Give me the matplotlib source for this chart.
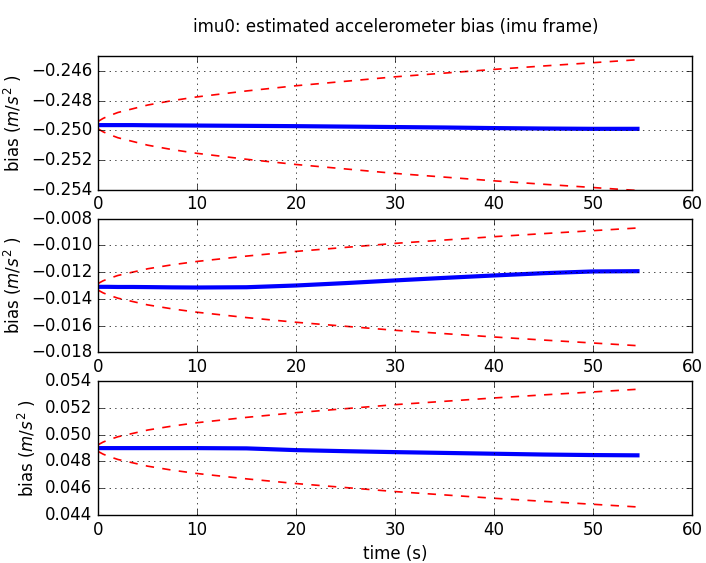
import numpy as np
import matplotlib.pyplot as plt

plt.style.use('classic')
plt.rcParams['mathtext.fontset'] = 'dejavusans'
plt.rcParams['figure.facecolor'] = 'white'
plt.rcParams['axes.unicode_minus'] = True

# time stamps (s)
t = [0, 0.5, 1, 2, 3.5, 5, 7.5, 10, 15, 20, 25, 30, 35, 40, 45, 50, 54.5]

# estimated bias per axis (m/s^2)
bias_x = [-0.24965, -0.24965, -0.24965, -0.24965, -0.24965, -0.24966, -0.24967, -0.24968, -0.24970,
          -0.24972, -0.24975, -0.24978, -0.24981, -0.24985, -0.24988, -0.24990, -0.24990]
bias_y = [-0.01310, -0.01310, -0.01310, -0.01311, -0.01311, -0.01312, -0.01314, -0.01315, -0.01313,
          -0.01300, -0.01282, -0.01262, -0.01243, -0.01225, -0.01208, -0.01195, -0.01193]
bias_z = [0.04900, 0.04900, 0.04900, 0.04900, 0.04900, 0.04900, 0.04900, 0.04900, 0.04898,
          0.04885, 0.04877, 0.04870, 0.04864, 0.04858, 0.04852, 0.04848, 0.04846]

# 3-sigma bound half width around the initial estimate
bound = [0.00025, 0.00045, 0.0006, 0.00085, 0.0011, 0.00135, 0.00165, 0.0019, 0.0023,
         0.00265, 0.00295, 0.00325, 0.0035, 0.00375, 0.00398, 0.0042, 0.0044]

ylims = [(-0.254, -0.245), (-0.018, -0.008), (0.044, 0.054)]
yticks = [np.arange(-0.254, -0.2455, 0.002), np.arange(-0.018, -0.0075, 0.002), np.arange(0.044, 0.0545, 0.002)]

fig, axes = plt.subplots(3, 1, figsize=(7.06, 5.63), dpi=100)
fig.subplots_adjust(left=0.139, right=0.980, top=0.9005, bottom=0.0853, hspace=0.216)

for ax, b, yl, yt in zip(axes, [bias_x, bias_y, bias_z], ylims, yticks):
    b = np.array(b)
    bd = np.array(bound)
    ax.plot(t, b, color='b', linewidth=3)
    ax.plot(t, b[0] + bd, 'r--', linewidth=1.2)
    ax.plot(t, b[0] - bd, 'r--', linewidth=1.2)
    ax.set_xlim(0, 60)
    ax.set_ylim(yl)
    ax.set_yticks(yt)
    ax.ticklabel_format(axis='y', useOffset=False)
    ax.grid(True)
    ax.set_ylabel(r'bias ($m/s^2$ )')

axes[-1].set_xlabel('time (s)')
fig.suptitle('imu0: estimated accelerometer bias (imu frame)', x=0.56, y=0.968, fontsize=12)

plt.savefig('out.png', dpi=100)
